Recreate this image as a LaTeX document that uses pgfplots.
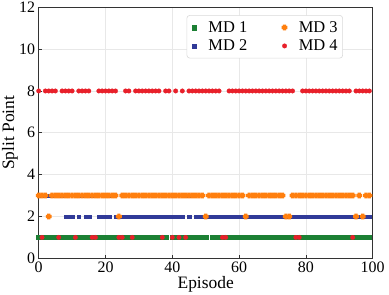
\documentclass[border=0pt]{standalone}
\usepackage{pgfplots}
\usepackage{pgfplotstable}
\pgfplotsset{compat=1.18}
\usepackage{fontspec}
\setmainfont{Liberation Serif}
\definecolor{cgreen}{RGB}{28,128,52}
\definecolor{cblue}{RGB}{48,58,152}
\definecolor{corange}{RGB}{255,127,14}
\definecolor{cred}{RGB}{232,32,42}
\pgfdeclareplotmark{fatplus}{%
  \pgfpathmoveto{\pgfqpoint{-\pgfplotmarksize}{-0.55\pgfplotmarksize}}%
  \pgfpathlineto{\pgfqpoint{-0.55\pgfplotmarksize}{-0.55\pgfplotmarksize}}%
  \pgfpathlineto{\pgfqpoint{-0.55\pgfplotmarksize}{-\pgfplotmarksize}}%
  \pgfpathlineto{\pgfqpoint{0.55\pgfplotmarksize}{-\pgfplotmarksize}}%
  \pgfpathlineto{\pgfqpoint{0.55\pgfplotmarksize}{-0.55\pgfplotmarksize}}%
  \pgfpathlineto{\pgfqpoint{\pgfplotmarksize}{-0.55\pgfplotmarksize}}%
  \pgfpathlineto{\pgfqpoint{\pgfplotmarksize}{0.55\pgfplotmarksize}}%
  \pgfpathlineto{\pgfqpoint{0.55\pgfplotmarksize}{0.55\pgfplotmarksize}}%
  \pgfpathlineto{\pgfqpoint{0.55\pgfplotmarksize}{\pgfplotmarksize}}%
  \pgfpathlineto{\pgfqpoint{-0.55\pgfplotmarksize}{\pgfplotmarksize}}%
  \pgfpathlineto{\pgfqpoint{-0.55\pgfplotmarksize}{0.55\pgfplotmarksize}}%
  \pgfpathlineto{\pgfqpoint{-\pgfplotmarksize}{0.55\pgfplotmarksize}}%
  \pgfpathclose
  \pgfusepathqfill
}
\pgfplotstableread{
ep md1 md2 md3 md4
0 1 3 3 8
1 1 3 3 1
2 1 3 3 8
3 1 3 2 8
4 1 3 3 8
5 1 3 3 8
6 1 3 3 1
7 1 3 3 8
8 1 2 3 8
9 1 2 3 8
10 1 2 3 8
11 1 3 3 1
12 1 2 3 8
13 1 3 3 8
14 1 2 3 8
15 1 2 3 8
16 1 3 3 1
17 1 3 3 1
18 1 2 3 8
19 1 2 3 8
20 1 2 3 8
21 1 2 3 8
22 1 3 3 8
23 1 2 3 8
24 1 2 2 1
25 1 2 3 1
26 1 2 3 8
27 1 2 3 8
28 1 2 3 1
29 1 2 3 8
30 1 2 3 8
31 1 2 3 8
32 1 2 3 8
33 1 2 3 8
34 1 2 3 8
35 1 2 3 8
36 1 2 3 8
37 1 2 3 1
38 1 2 3 8
39 nan 2 3 8
40 1 2 3 1
41 1 2 3 8
42 1 2 3 1
43 1 2 3 8
44 1 3 3 1
45 1 2 3 8
46 1 3 3 8
47 1 2 3 8
48 1 2 3 8
49 1 2 3 8
50 1 2 2 8
51 nan 2 3 8
52 1 2 3 8
53 1 2 3 8
54 1 2 3 8
55 1 2 3 1
56 1 2 3 1
57 1 2 3 8
58 1 2 3 8
59 1 2 3 8
60 1 2 3 8
61 1 2 3 8
62 1 2 2 8
63 1 2 3 8
64 1 2 3 8
65 1 2 3 8
66 1 2 3 8
67 1 2 3 8
68 1 2 3 8
69 1 2 3 8
70 1 2 3 8
71 1 2 3 8
72 1 2 3 8
73 1 2 3 8
74 1 2 2 8
75 1 2 2 8
76 1 2 3 8
77 1 2 3 1
78 1 2 3 1
79 1 2 3 8
80 1 2 3 8
81 1 2 3 8
82 1 2 3 8
83 1 2 3 8
84 1 2 3 8
85 1 2 3 8
86 1 2 3 8
87 1 2 3 8
88 1 2 3 8
89 1 2 3 8
90 1 2 3 8
91 1 2 3 8
92 1 2 3 8
93 1 2 3 8
94 1 2 3 1
95 1 2 2 8
96 1 2 3 8
97 1 2 2 8
98 1 2 3 8
99 1 2 3 8
}\splitdata
\begin{document}
\begin{tikzpicture}
\useasboundingbox (-38.7bp,-36.7bp) rectangle (350.3bp,258.3bp);
\begin{axis}[
  at={(0,0)}, anchor=south west,
  scale only axis, width=334bp, height=251bp,
  xmin=0, xmax=100, ymin=0, ymax=12,
  xtick={0,20,...,100}, ytick={0,2,...,12},
  /pgf/number format/assume math mode=true,
  ticklabel style={font=\fontsize{16}{18}\selectfont},
  grid=major, major grid style={draw=black!9, line width=0.6bp},
  axis line style={draw=black!80, line width=0.8bp},
  tick align=inside, tick pos=left, major tick length=3bp,
  tick style={draw=black!80, line width=0.6bp},
  xlabel={Episode}, ylabel={Split Point},
  label style={font=\fontsize{17.5}{20}\selectfont},
  xlabel style={at={(axis description cs:0.5,-0.1024)}, anchor=center},
  ylabel style={at={(axis description cs:-0.0859,0.5)}, anchor=center},
  only marks,
  unbounded coords=discard,
  legend image code/.code={\path (0bp,0bp) (8bp,0bp); \draw[#1] plot coordinates {(4bp,0bp)};},
  legend columns=2, transpose legend,
  legend style={at={(0.911,0.969)}, anchor=north east,
    draw=black!15, rounded corners=3pt, line width=0.6bp,
    font=\fontsize{16.5}{19}\selectfont,
    inner xsep=3bp, inner ysep=3bp,
    nodes={inner xsep=2bp, inner ysep=3bp},
    /tikz/every odd column/.append style={column sep=8bp},
    /tikz/every even column/.append style={column sep=31bp}},
]
\addplot[mark=square*, mark size=2.2bp, mark options={fill=cgreen, draw=cgreen, line width=0.2bp}] table[x=ep, y=md1] {\splitdata};
\addlegendentry{MD 1}
\addplot[mark=square*, mark size=1.8bp, mark options={fill=cblue, draw=cblue, line width=0.2bp}] table[x=ep, y=md2] {\splitdata};
\addlegendentry{MD 2}
\addplot[mark=fatplus, mark size=2.9bp, mark options={fill=corange, draw=corange}] table[x=ep, y=md3] {\splitdata};
\addlegendentry{MD 3}
\addplot[mark=*, mark size=2.3bp, mark options={fill=cred, draw=cred, line width=0.2bp}] table[x=ep, y=md4] {\splitdata};
\addlegendentry{MD 4}
\end{axis}
\end{tikzpicture}
\end{document}
